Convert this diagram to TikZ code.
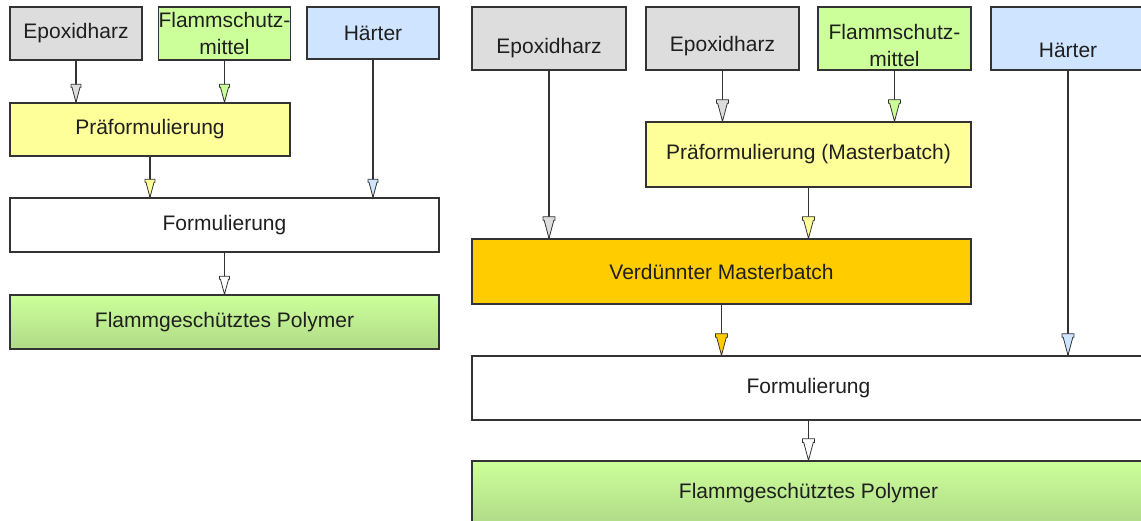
\documentclass[tikz,border=0pt]{standalone}
\usepackage{fontspec}
\setmainfont{Liberation Sans}
\usetikzlibrary{decorations.markings}
\definecolor{lc}{HTML}{333333}
\definecolor{cgray}{HTML}{DDDDDD}
\definecolor{cgreen}{HTML}{CCFF99}
\definecolor{cblue}{HTML}{CFE5FF}
\definecolor{cyellow}{HTML}{FFFF99}
\definecolor{corange}{HTML}{FFCC00}
\definecolor{cgreenb}{HTML}{B0DA88}
\begin{document}
\begin{tikzpicture}[x=1pt,y=-1pt,
  every node/.style={font=\fontsize{21}{27}\selectfont, text=black!88},
  box/.style={draw=lc, line width=1.3pt, inner sep=0pt, align=center},
  polybox/.style={box, top color=cgreen, bottom color=cgreenb},
  feed/.style={draw=lc, line width=1.3pt, postaction=decorate,
    decoration={markings, mark=at position 1 with {%
      \filldraw[draw=lc, fill=#1, line width=0.8pt, line join=miter]
        (0,0) -- (-15,4) -- (-15,5) -- (-18,5) -- (-18,-5) -- (-15,-5) -- (-15,-4) -- cycle;}}},
  feedR/.style={draw=lc, line width=1.3pt, postaction=decorate,
    decoration={markings, mark=at position 1 with {%
      \filldraw[draw=lc, fill=#1, line width=0.8pt, line join=miter, scale=1.2]
        (0,0) -- (-15,4) -- (-15,5) -- (-18,5) -- (-18,-5) -- (-15,-5) -- (-15,-4) -- cycle;}}}
]
\useasboundingbox (0,0) rectangle (1141,521);
\clip (0,0) rectangle (1141,521);

% ---------- left diagram ----------
\node[box, fill=cgray, minimum width=132pt, minimum height=53pt] (le) at (76,33.5) {Epoxidharz};
\node[box, fill=cgreen, minimum width=131pt, minimum height=53pt] (lf) at (224.5,33.5) {Flammschutz-\\mittel};
\node[box, fill=cblue, minimum width=132pt, minimum height=52pt] (lh) at (373,33) {Härter};
\node[box, fill=cyellow, minimum width=280pt, minimum height=53pt] (lp) at (150,129.5) {Präformulierung};
\node[box, fill=white, minimum width=429pt, minimum height=54pt] (lform) at (224.5,225) {Formulierung};
\node[polybox, minimum width=429pt, minimum height=54pt] (lpoly) at (224.5,322) {Flammgeschütztes Polymer};

\draw[feed=cgray] (le.south) -- (le.south |- lp.north);
\draw[feed=cgreen] (lf.south) -- (lf.south |- lp.north);
\draw[feed=cyellow] (lp.south) -- (lp.south |- lform.north);
\draw[feed=cblue] (lh.south) -- (lh.south |- lform.north);
\draw[feed=white] (lform.south) -- (lform.south |- lpoly.north);

% ---------- right diagram ----------
\node[box, fill=cgray, minimum width=154pt, minimum height=63pt,
  label={[yshift=-10pt]center:Epoxidharz}] (re1) at (549,38.5) {};
\node[box, fill=cgray, minimum width=153pt, minimum height=63pt,
  label={[yshift=-8pt]center:Epoxidharz}] (re2) at (722.5,38.5) {};
\node[box, fill=cgreen, minimum width=153pt, minimum height=63pt,
  label={[yshift=-7pt, align=center]center:{Flammschutz-\\mittel}}] (rf) at (894.5,38.5) {};
\node[box, fill=cblue, minimum width=154pt, minimum height=63pt,
  label={[yshift=-11.5pt]center:Härter}] (rh) at (1068,38.5) {};
\node[box, fill=cyellow, minimum width=325pt, minimum height=65pt] (rp) at (808.5,154.5) {Präformulierung (Masterbatch)};
\node[box, fill=corange, minimum width=499pt, minimum height=65pt] (rv) at (721.5,271.5) {Verdünnter Masterbatch};
\node[box, fill=white, minimum width=673pt, minimum height=64pt] (rform) at (808.5,388) {Formulierung};
\node[polybox, minimum width=673pt, minimum height=64pt] (rpoly) at (808.5,493) {Flammgeschütztes Polymer};

\draw[feedR=cgray] (re1.south) -- (re1.south |- rv.north);
\draw[feedR=cgray] (re2.south) -- (re2.south |- rp.north);
\draw[feedR=cgreen] (rf.south) -- (rf.south |- rp.north);
\draw[feedR=cyellow] (rp.south) -- (rp.south |- rv.north);
\draw[feedR=corange] (rv.south) -- (rv.south |- rform.north);
\draw[feedR=cblue] (rh.south) -- (rh.south |- rform.north);
\draw[feedR=white] (rform.south) -- (rform.south |- rpoly.north);
\end{tikzpicture}
\end{document}
